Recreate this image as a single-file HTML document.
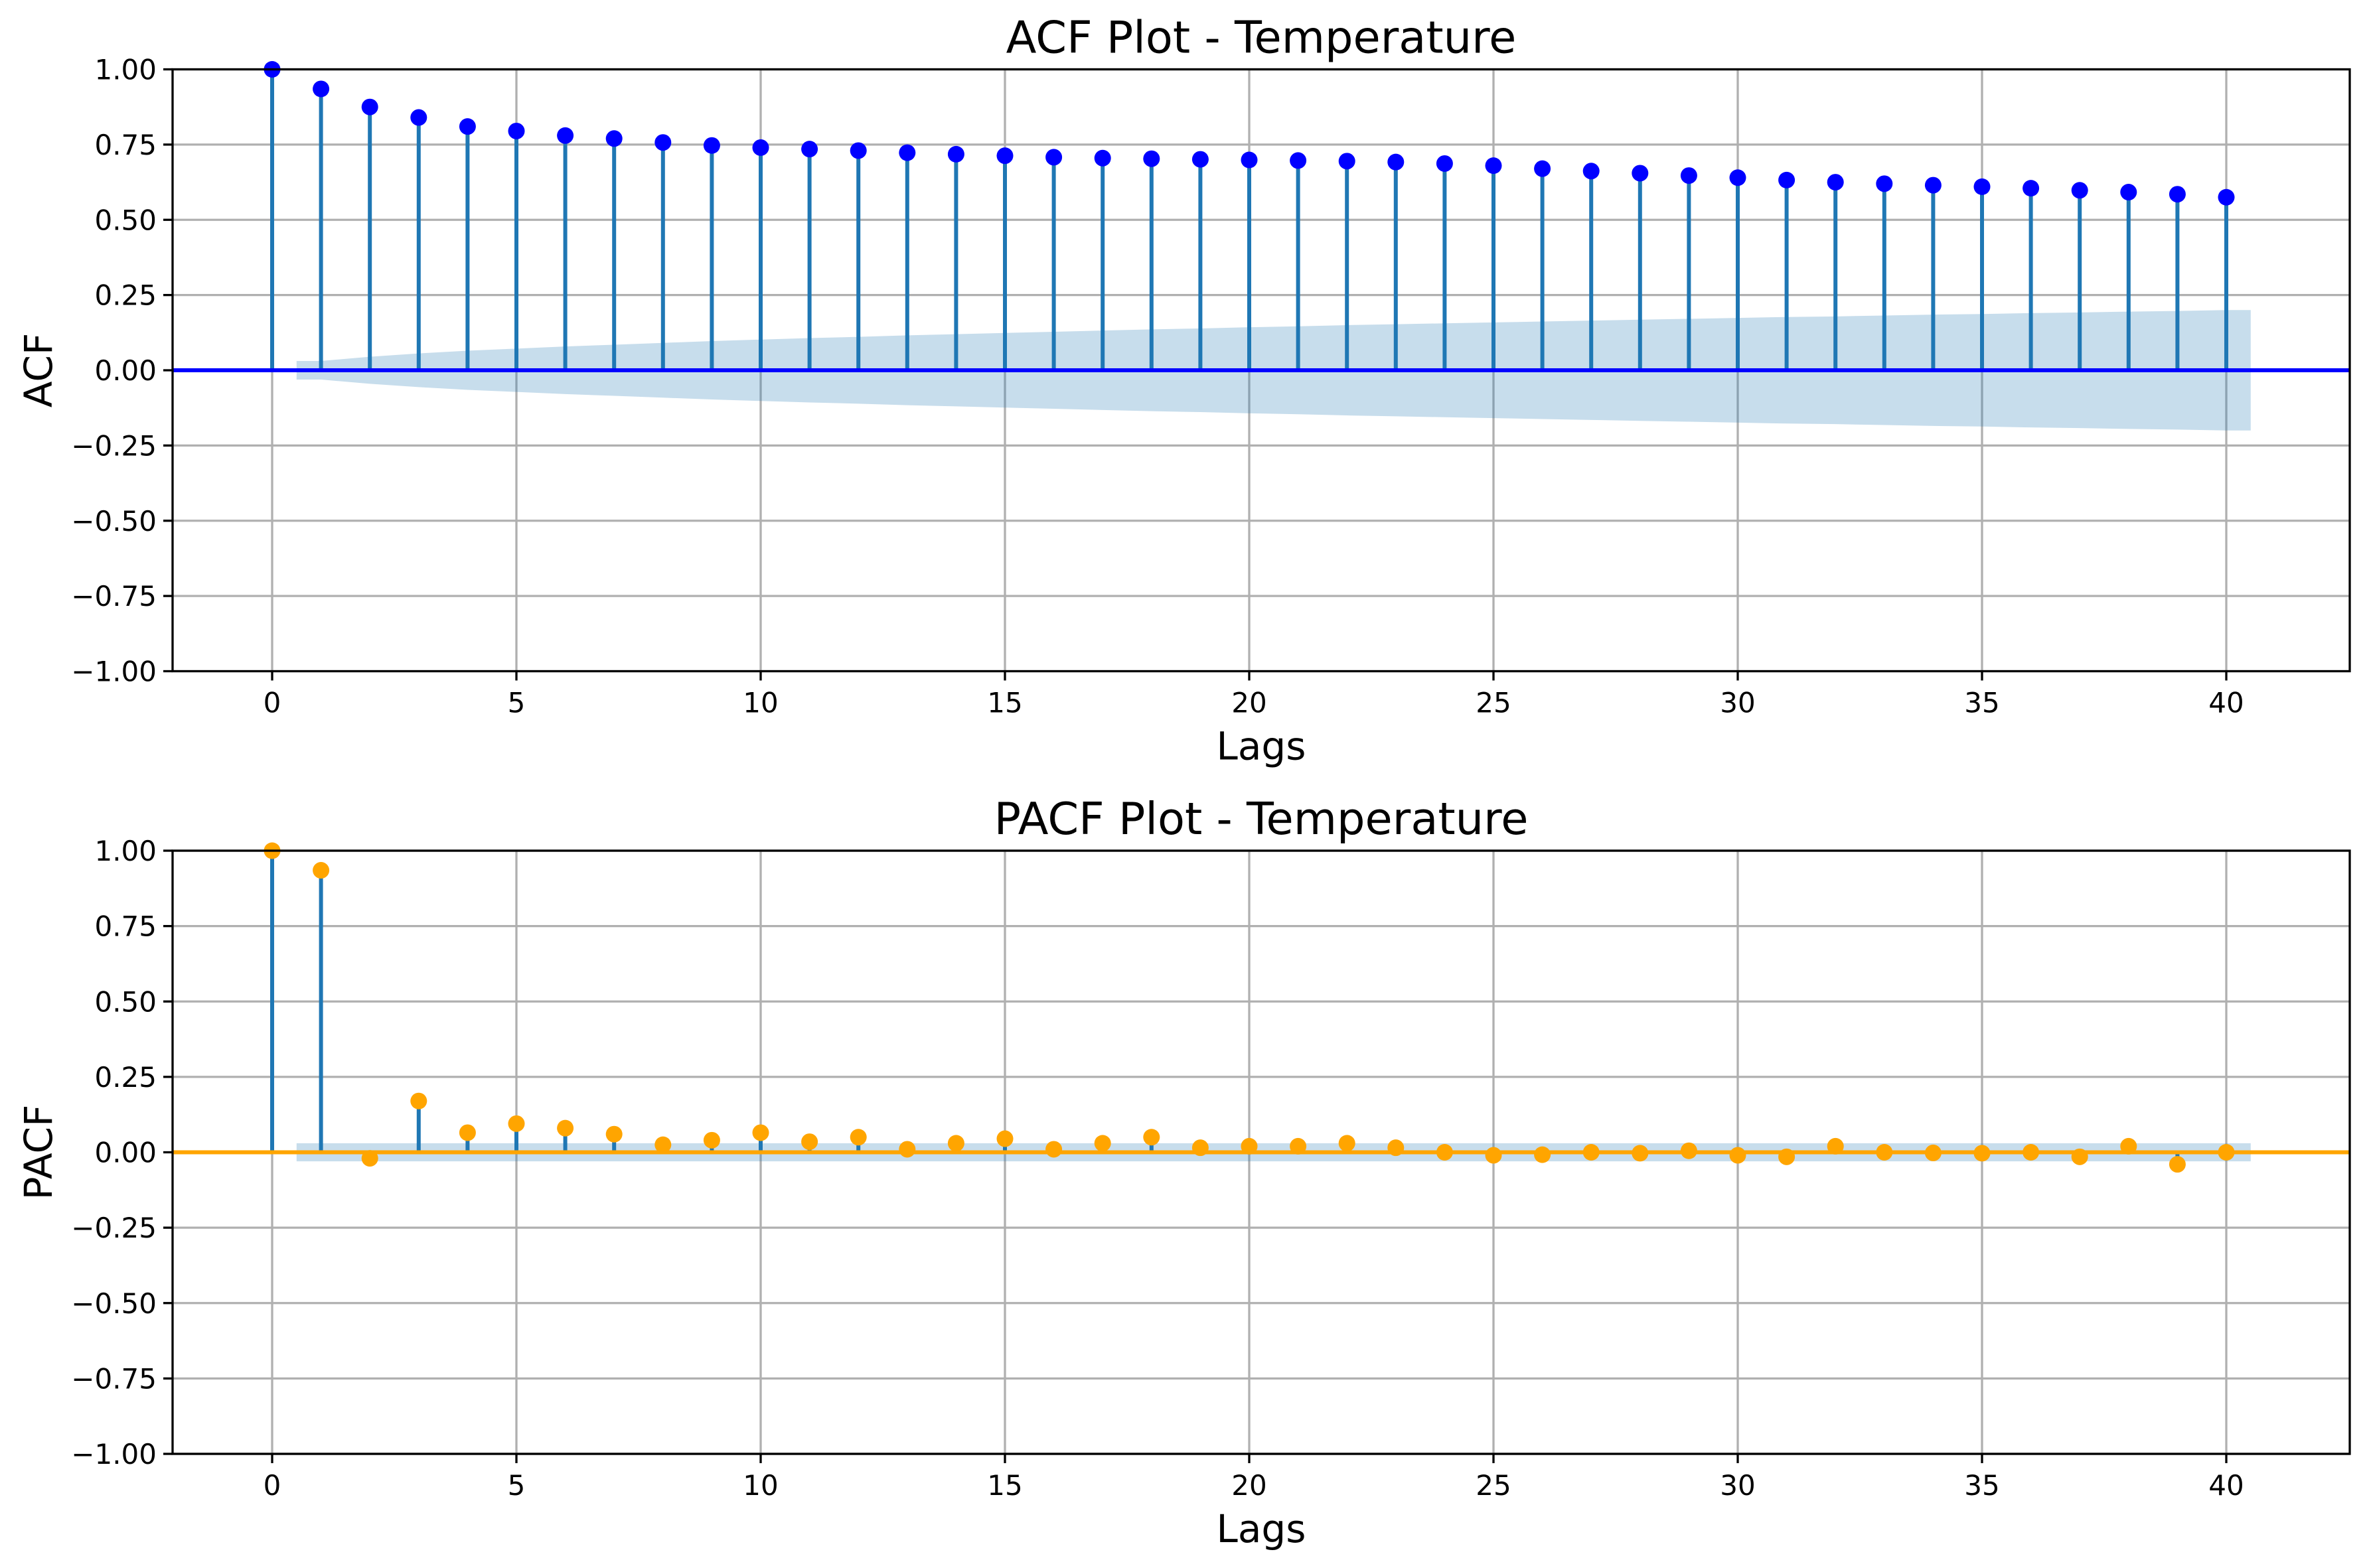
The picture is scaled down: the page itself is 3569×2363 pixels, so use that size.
<!DOCTYPE html>
<html><head><meta charset="utf-8"><style>body{margin:0;background:#fff}svg{display:block;font-family:"DejaVu Sans","Liberation Sans",sans-serif}</style></head>
<body>
<svg id="fig" width="3569" height="2363" viewBox="0 0 3569 2363" xmlns="http://www.w3.org/2000/svg"></svg>
<script>
const lags = Array.from({length:41},(_,i)=>i);
const acfValues = [1.0,0.935,0.875,0.84,0.81,0.795,0.78,0.77,0.757,0.747,0.74,0.735,0.73,0.723,0.718,0.713,0.708,0.705,0.703,0.701,0.699,0.697,0.695,0.692,0.687,0.68,0.67,0.662,0.655,0.647,0.64,0.632,0.625,0.62,0.615,0.61,0.605,0.598,0.592,0.585,0.575];
const acfBand = [0.031,0.045,0.056,0.065,0.072,0.079,0.085,0.091,0.097,0.102,0.107,0.111,0.116,0.12,0.124,0.128,0.132,0.136,0.139,0.143,0.146,0.15,0.153,0.156,0.159,0.162,0.165,0.168,0.171,0.174,0.177,0.179,0.182,0.185,0.187,0.19,0.192,0.195,0.197,0.2];
const pacfValues = [1.0,0.935,-0.02,0.17,0.065,0.095,0.08,0.06,0.025,0.04,0.065,0.035,0.05,0.01,0.03,0.045,0.01,0.03,0.05,0.015,0.02,0.02,0.03,0.015,0.0,-0.01,-0.008,0.0,-0.003,0.005,-0.01,-0.015,0.02,0.0,-0.002,-0.003,0.0,-0.015,0.02,-0.04,0.0];
const pacfBand = Array(40).fill(0.03);
const yTicks = [1.0,0.75,0.5,0.25,0,-0.25,-0.5,-0.75,-1.0];
const yTickLabels = ["1.00","0.75","0.50","0.25","0.00","\u22120.25","\u22120.50","\u22120.75","\u22121.00"];
const xTicks = [0,5,10,15,20,25,30,35,40];

const NS="http://www.w3.org/2000/svg";
const svg=document.getElementById('fig');
function mk(tag,attrs,parent){const e=document.createElementNS(NS,tag);for(const k in attrs)e.setAttribute(k,attrs[k]);(parent||svg).appendChild(e);return e;}
const L=260,R=3540;
const xs=v=>410+v*73.6;

function panel(top,bottom,vals,band,dotColor,zeroColor,title,ylab,prefix){
  const g=mk('g',{});
  
  
  const ys=v=>top+(1-v)/2*(bottom-top);
  xTicks.forEach(t=>{const l=mk('line',{x1:xs(t),x2:xs(t),y1:top,y2:bottom,stroke:'#b0b0b0','stroke-width':3.3},g);});
  yTicks.forEach(t=>{const l=mk('line',{x1:L,x2:R,y1:ys(t),y2:ys(t),stroke:'#b0b0b0','stroke-width':3.3},g);});
  let up=[],dn=[];
  up.push([xs(0.5),ys(band[0])]);dn.push([xs(0.5),ys(-band[0])]);
  band.forEach((b,i)=>{up.push([xs(i+1),ys(b)]);dn.push([xs(i+1),ys(-b)]);});
  up.push([xs(40.5),ys(band[band.length-1])]);dn.push([xs(40.5),ys(-band[band.length-1])]);
  const pts=up.concat(dn.reverse()).map(p=>p.join(',')).join(' ');
  const poly=mk('polygon',{points:pts,fill:'#1f77b4','fill-opacity':0.25},g);
  
  
  vals.forEach((v,i)=>{const l=mk('line',{x1:xs(lags[i]),x2:xs(lags[i]),y1:ys(0),y2:ys(v),stroke:'#1f77b4','stroke-width':6},g);});
  const z=mk('line',{x1:L,x2:R,y1:ys(0),y2:ys(0),stroke:zeroColor,'stroke-width':6},g);
  
  
  vals.forEach((v,i)=>{const c=mk('circle',{cx:xs(lags[i]),cy:ys(v),r:12.5,fill:dotColor},g);});
  const sp=mk('rect',{x:L,y:top,width:R-L,height:bottom-top,fill:'none',stroke:'#000','stroke-width':3.3},g);
  
  
  yTicks.forEach((t,i)=>{mk('line',{x1:L-14,x2:L,y1:ys(t),y2:ys(t),stroke:'#000','stroke-width':3.3},g);
    const tx=mk('text',{x:L-24,y:ys(t)+15,'font-size':42,'text-anchor':'end',fill:'#000'},g);tx.textContent=yTickLabels[i];});
  xTicks.forEach(t=>{mk('line',{x1:xs(t),x2:xs(t),y1:bottom,y2:bottom+14,stroke:'#000','stroke-width':3.3},g);
    const tx=mk('text',{x:xs(t),y:bottom+62,'font-size':42,'text-anchor':'middle',fill:'#000'},g);tx.textContent=t;});
  const ti=mk('text',{x:(L+R)/2,y:top-25,'font-size':67,'text-anchor':'middle',fill:'#000'},g);ti.textContent=title;
  
  
  const xl=mk('text',{x:(L+R)/2,y:bottom+133,'font-size':58,'text-anchor':'middle',fill:'#000'},g);xl.textContent='Lags';
  
  
  const cy=(top+bottom)/2;
  const yl=mk('text',{x:78,y:cy,'font-size':58,'text-anchor':'middle',fill:'#000',transform:`rotate(-90 78 ${cy})`},g);yl.textContent=ylab;
  
  
}
panel(104.5,1011.5,acfValues,acfBand,'#0000ff','#0000ff','ACF Plot - Temperature','ACF','acf');
panel(1282,2191,pacfValues,pacfBand,'#ffa500','#ffa500','PACF Plot - Temperature','PACF','pacf');
</script>
</body></html>
